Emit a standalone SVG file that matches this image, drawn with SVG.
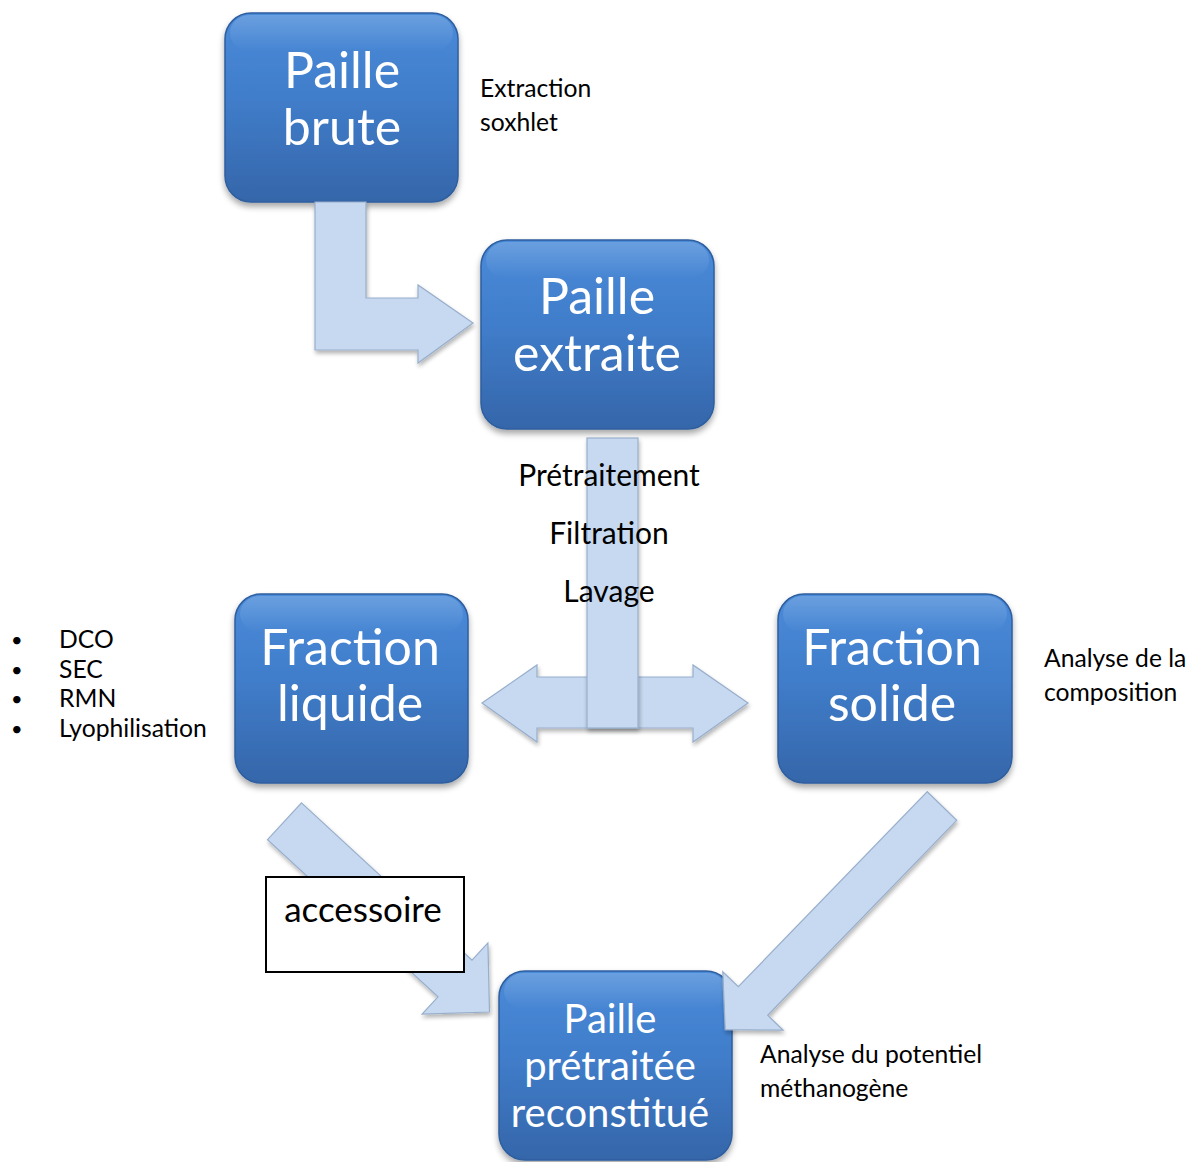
<svg xmlns="http://www.w3.org/2000/svg" width="1197" height="1162" viewBox="0 0 1197 1162">
<defs>
  <linearGradient id="nodeGrad" x1="0" y1="0" x2="0" y2="1">
    <stop offset="0" stop-color="#4a8bd9"/>
    <stop offset="0.45" stop-color="#407dca"/>
    <stop offset="1" stop-color="#3566aa"/>
  </linearGradient>
  <linearGradient id="glossGrad" x1="0" y1="0" x2="0" y2="1">
    <stop offset="0" stop-color="#ffffff" stop-opacity="0.18"/>
    <stop offset="1" stop-color="#ffffff" stop-opacity="0"/>
  </linearGradient>
  <filter id="shadow" x="-10%" y="-10%" width="125%" height="130%">
    <feGaussianBlur in="SourceAlpha" stdDeviation="3"/>
    <feOffset dx="0" dy="4" result="b"/>
    <feComponentTransfer><feFuncA type="linear" slope="0.35"/></feComponentTransfer>
    <feMerge><feMergeNode/><feMergeNode in="SourceGraphic"/></feMerge>
  </filter>
  <filter id="ashadow" x="-10%" y="-10%" width="125%" height="125%">
    <feGaussianBlur in="SourceAlpha" stdDeviation="2"/>
    <feOffset dx="1" dy="3"/>
    <feComponentTransfer><feFuncA type="linear" slope="0.3"/></feComponentTransfer>
    <feMerge><feMergeNode/><feMergeNode in="SourceGraphic"/></feMerge>
  </filter>
</defs>
<style>
  .box { fill: url(#nodeGrad); stroke: #2f5e9e; stroke-width: 1.5; filter: url(#shadow); }
  .gloss { fill: url(#glossGrad); stroke: none; }
  .nt { font-family: Lato, "Open Sans", "Liberation Sans", sans-serif; fill: #ffffff; text-anchor: middle; font-size: 50px; }
  .nt5 { font-size: 40px; }
  .lbl { font-family: Lato, "Open Sans", "Liberation Sans", sans-serif; fill: #000000; font-size: 24.7px; }
  .bul { font-size: 20px; }
  .step { font-size: 30px; text-anchor: middle; }
  .acc { font-size: 35px; text-anchor: middle; }
  .arrow { fill: #c6d9f0; stroke: #98aecb; stroke-width: 1.2; filter: url(#ashadow); }
</style>

<g id="node-paille-brute">
  <rect class="box" x="225" y="13" width="233" height="189" rx="26"/>
  <rect class="gloss" x="230" y="15" width="223" height="36" rx="20"/>
  <text class="nt" x="342" y="88">Paille</text>
  <text class="nt" x="342" y="145">brute</text>
</g>
<g id="node-paille-extraite">
  <rect class="box" x="481" y="240" width="233" height="189" rx="26"/>
  <rect class="gloss" x="486" y="242" width="223" height="36" rx="20"/>
  <text class="nt" x="597" y="314">Paille</text>
  <text class="nt" x="597" y="371">extraite</text>
</g>
<g id="node-fraction-liquide">
  <rect class="box" x="235" y="594" width="233" height="189" rx="26"/>
  <rect class="gloss" x="240" y="596" width="223" height="36" rx="20"/>
  <text class="nt" x="350" y="665">Fraction</text>
  <text class="nt" x="350" y="721">liquide</text>
</g>
<g id="node-fraction-solide">
  <rect class="box" x="778" y="594" width="234" height="189" rx="26"/>
  <rect class="gloss" x="783" y="596" width="224" height="36" rx="20"/>
  <text class="nt" x="892" y="665">Fraction</text>
  <text class="nt" x="892" y="721">solide</text>
</g>
<g id="node-paille-reconstitue">
  <rect class="box" x="499" y="971" width="233" height="189" rx="26"/>
  <rect class="gloss" x="504" y="973" width="223" height="36" rx="20"/>
  <text class="nt nt5" x="610" y="1033">Paille</text>
  <text class="nt nt5" x="610" y="1080">prétraitée</text>
  <text class="nt nt5" x="610" y="1127">reconstitué</text>
</g>

<g id="connectors">
  <path class="arrow" d="M315,202 L366,202 L366,298 L418,298 L418,285 L473,323 L418,363 L418,350 L315,350 Z"/>
  <path class="arrow" d="M482,703 L537,665 L537,677 L693,677 L693,665 L748,703 L693,742 L693,728 L537,728 L537,742 Z"/>
  <rect class="arrow" x="587" y="438" width="51" height="290"/>
  <path class="arrow" d="M301.5,802.9 L472,960.1 L487.9,942.9 L489.5,1012 L422.1,1014.1 L438,996.9 L267.5,839.7 Z"/>
  <path class="arrow" d="M927.3,791.7 L956.7,820.3 L767.7,1015.3 L783.2,1030.2 L725.2,1029.7 L722.8,971.8 L738.3,986.7 Z"/>
</g>

<g id="label-accessoire">
  <rect x="266" y="877" width="198" height="95" fill="#ffffff" stroke="#000000" stroke-width="2"/>
  <text class="lbl acc" x="363" y="922">accessoire</text>
</g>

<g id="labels">
  <text class="lbl" x="480" y="97">Extraction</text>
  <text class="lbl" x="480" y="131">soxhlet</text>
  <text class="lbl step" x="609" y="486">Prétraitement</text>
  <text class="lbl step" x="609" y="544">Filtration</text>
  <text class="lbl step" x="609" y="602">Lavage</text>
  <text class="lbl bul" x="11" y="647">•</text>
  <text class="lbl" x="59" y="648">DCO</text>
  <text class="lbl bul" x="11" y="677">•</text>
  <text class="lbl" x="59" y="678">SEC</text>
  <text class="lbl bul" x="11" y="706">•</text>
  <text class="lbl" x="59" y="707">RMN</text>
  <text class="lbl bul" x="11" y="736">•</text>
  <text class="lbl" x="59" y="737">Lyophilisation</text>
  <text class="lbl" x="1044" y="667">Analyse de la</text>
  <text class="lbl" x="1044" y="701">composition</text>
  <text class="lbl" x="760" y="1063">Analyse du potentiel</text>
  <text class="lbl" x="760" y="1097">méthanogène</text>
</g>
</svg>
